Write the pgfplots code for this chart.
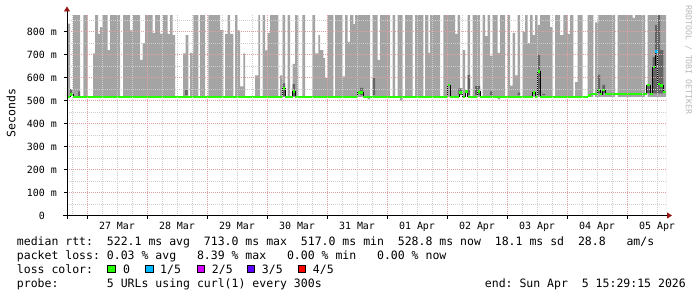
\documentclass[border=0pt]{standalone}
\usepackage{fontspec}
\setmonofont{DejaVu Sans Mono}
\usepackage{pgfplots}
\pgfplotsset{compat=1.18}
\usetikzlibrary{arrows.meta}

\definecolor{smoke}{RGB}{164,164,164}
\definecolor{smokedark}{RGB}{100,100,100}
\definecolor{medgreen}{RGB}{38,255,0}
\definecolor{lossblue}{RGB}{0,184,255}
\definecolor{lossmag}{RGB}{212,0,255}
\definecolor{lossviolet}{RGB}{94,0,255}
\definecolor{lossred}{RGB}{255,0,0}
\definecolor{mgrid}{RGB}{228,160,160}
\definecolor{ngrid}{RGB}{205,205,205}
\definecolor{arrowred}{RGB}{150,20,20}
\definecolor{wmark}{RGB}{185,185,185}

\newcommand{\legfont}{\ttfamily\fontsize{11.55}{14}\selectfont}

\begin{document}
\begin{tikzpicture}
\useasboundingbox (-67bp,-81.5bp) rectangle (630bp,215.5bp);
\begin{axis}[
  at={(0,0)}, anchor=south west,
  scale only axis, width=599bp, height=200.4bp,
  xmin=-8, xmax=231.6, ymin=0, ymax=872,
  axis lines*=left,
  axis line style={draw=none},
  axis on top,
  xtick={0,24,...,216}, xticklabels={},
  extra x ticks={12,36,...,228},
  extra x tick labels={27 Mar,28 Mar,29 Mar,30 Mar,31 Mar,01 Apr,02 Apr,03 Apr,04 Apr,05 Apr},
  extra x tick style={grid=none, major tick length=0pt},
  minor xtick={-6,6,12,18,30,36,42,54,60,66,78,84,90,102,108,114,126,132,138,150,156,162,174,180,186,198,204,210,222,228},
  ytick={0,100,...,800},
  yticklabels={0\phantom{\ m},100 m,200 m,300 m,400 m,500 m,600 m,700 m,800 m},
  minor ytick={50,150,...,850},
  grid=both,
  major grid style={mgrid, dash pattern=on 1bp off 1bp, line width=0.8bp},
  minor grid style={ngrid, dash pattern=on 1bp off 1bp, line width=0.8bp},
  tick align=outside, major tick length=3bp, minor tick length=0pt,
  tick style={black, line width=0.8bp},
  ticklabel style={font=\ttfamily\fontsize{10}{12}\selectfont, inner sep=0pt},
  xticklabel style={yshift=-6bp},
  yticklabel style={xshift=-7bp},
]
% smoke (upper envelope of ping spread)
\addplot[const plot mark left, fill=smoke, draw=none] table {
x top
-8 835
-6.8 515
-5.6 872
-2.8 515
-1.48 872
0.28 515
2.4 705
3.2 872
4.4 790
5.2 820
6.28 872
8.28 720
9.2 872
13.2 515
14.4 872
17.2 805
18.4 872
21.2 677
22.28 750
23.2 872
26.28 795
27.2 872
29.2 790
30.4 872
32.28 790
33.2 872
34.28 785
35.2 515
38.4 705
39.4 785
40.52 515
41.2 708
42.52 872
44.52 515
45.2 872
47.2 515
48.52 872
53.2 807
54.52 515
55.2 790
56.28 872
57.2 790
58.52 515
59.2 872
60.12 805
61.2 562
62.52 705
63.2 515
67.2 610
68.52 872
69.2 515
70.28 872
71.2 718
72.28 795
73.2 872
76.52 515
77.2 610
78.28 872
79.2 515
80.28 872
81.2 515
82.28 660
83.2 872
84.52 515
86.12 872
87.2 515
90.12 872
91.2 705
92.52 785
93.2 720
94.52 685
95.2 598
96.28 872
98.52 515
99.2 872
102.12 605
103.2 872
104.28 756
105.2 872
106.52 833
107.2 872
113.2 515
114.28 872
116.28 677
117.2 872
121.2 515
122.28 872
123.2 515
124.28 872
126.28 515
127.2 872
130.28 515
131.2 872
134.52 515
135.2 872
136.52 708
137.2 872
141.2 515
142.52 872
147.2 790
148.28 872
149.2 515
150.28 720
151.2 515
152.28 872
153.2 515
154.28 872
157.2 515
158.28 872
159.2 780
160.28 872
161.2 695
162.28 872
164.28 708
165.2 872
167.2 515
168.28 872
169.2 565
170.28 795
171.2 610
172.28 872
173.2 515
174.28 800
175.2 872
176.28 750
177.2 872
178.28 785
179.2 872
180.28 829
181.2 872
185.2 820
186.28 515
187.2 872
189.2 785
190.52 872
192.28 790
193.2 872
194.52 515
195.2 580
196.28 872
198.28 515
200.28 872
202.52 515
203.2 840
204.52 872
211.2 515
212.28 872
218.28 860
219.2 872
223.2 515
224.28 872
231.6 872
} \closedcycle;
% blank below the median band
\addplot[fill=white, draw=none] coordinates {(-8,515) (231.6,515)} \closedcycle;
% light smoke below the median
\addplot[fill=smoke, draw=none, unbounded coords=jump] table {
x y
112.28 505
112.28 518
113.2 518
113.2 505
nan nan
125.2 500
125.2 518
126.28 518
126.28 500
nan nan
164.28 505
164.28 518
165.2 518
165.2 505
};
% darker smoke
\addplot[fill=smokedark, draw=none, unbounded coords=jump] table {
x y
-6.8 527
-6.8 550
-5.72 550
-5.72 527
nan nan
-3.6 520
-3.6 540
-2.8 540
-2.8 520
nan nan
39.2 524
39.2 546
40.28 546
40.28 524
nan nan
78.28 518
78.28 575
79.2 575
79.2 518
nan nan
82.28 518
82.28 572
83.2 572
83.2 518
nan nan
109.2 524
109.2 555
110.52 555
110.52 524
nan nan
114.28 524
114.28 598
115.2 598
115.2 524
nan nan
148.52 524
148.52 553
150.28 553
150.28 524
nan nan
152.28 524
152.28 612
153.2 612
153.2 524
nan nan
155.2 524
155.2 563
157.2 563
157.2 524
nan nan
161.2 524
161.2 540
162.28 540
162.28 524
nan nan
172.28 524
172.28 535
173.2 535
173.2 524
nan nan
180.28 524
180.28 700
181.2 700
181.2 524
nan nan
182.12 524
182.12 529
183.2 529
183.2 524
nan nan
204.28 531
204.28 612
205.2 612
205.2 531
nan nan
206.12 531
206.12 568
207.2 568
207.2 531
nan nan
223.88 531
223.88 568
225.2 568
225.2 531
nan nan
226.28 531
226.28 690
227.2 690
227.2 531
nan nan
227.2 531
227.2 829
228.28 829
228.28 531
nan nan
228.28 531
228.28 872
229.2 872
229.2 531
nan nan
229.2 531
229.2 720
230.52 720
230.52 531
};
% median rtt
\pgfplotsset{medtab/.style={}}
\addplot[const plot mark left, black, line width=0.7bp] table {
x y
-8 517
-6.8 526
-5.6 517
78.28 553
79.2 517
82.28 539
83.2 517
108.28 535
110.52 517
144.28 568
145.28 517
148.92 535
150.28 517
151.2 539
152.28 517
156.28 539
157.2 517
178.28 535
179.2 517
180.28 626
181.2 517
200.4 522
201.4 529
204.28 546
205.2 529
206.12 546
207.2 529
223.88 568
225.2 529
226.28 645
227.2 713
228.28 572
229.2 565
230.52 538
231.6 538
};
\addplot[jump mark left, medgreen, line width=2.3bp] table {
x y
-8 517
-6.8 526
-5.6 517
78.28 553
79.2 517
82.28 539
83.2 517
108.28 535
110.52 517
144.28 568
145.28 517
148.92 535
150.28 517
151.2 539
152.28 517
156.28 539
157.2 517
178.28 535
179.2 517
180.28 626
181.2 517
200.4 522
201.4 529
204.28 546
205.2 529
206.12 546
207.2 529
223.88 568
225.2 529
226.28 645
227.2 713
228.28 572
229.2 565
230.52 538
231.6 538
};
\addplot[lossblue, line width=2.3bp] coordinates {(227.2,713) (228.28,713)};
\end{axis}
% axes with arrows
\draw[line width=0.8bp, -{Triangle[length=5bp,width=6bp,color=arrowred]}] (-4bp,0) -- (605bp,0);
\draw[line width=0.8bp, -{Triangle[length=5bp,width=6bp,color=arrowred]}] (0,-3.5bp) -- (0,209bp);
% y label
\node[rotate=90, font=\legfont, inner sep=0pt] at (-56bp,102.5bp) {Seconds};
% watermark
\node[rotate=-90, font=\ttfamily\fontsize{8.3}{10}\selectfont, text=wmark, inner sep=0pt] at (621.5bp,155.5bp) {RRDTOOL / TOBI OETIKER};
% legend lines
\node[anchor=base west, inner sep=0pt, font=\legfont] at (-50.3bp,-29.8bp) {median rtt:~~522.1 ms avg~~713.0 ms max~~517.0 ms min~~528.8 ms now~~18.1 ms sd~~28.8~~~am/s};
\node[anchor=base west, inner sep=0pt, font=\legfont] at (-50.3bp,-43.8bp) {packet loss: 0.03 \% avg~~~8.39 \% max~~~0.00 \% min~~~0.00 \% now};
\node[anchor=base west, inner sep=0pt, font=\legfont] at (-50.3bp,-57.8bp) {loss color:};
\foreach \bx/\lx/\col/\lab in {40.8/56/medgreen/0, 78.7/93/lossblue/1\slash 5, 130/144.7/lossmag/2\slash 5, 180/194.7/lossviolet/3\slash 5, 231/245.7/lossred/4\slash 5}{
  \filldraw[fill=\col, draw=black, line width=0.8bp] (\bx bp,-57.2bp) rectangle ++(7.5bp,7.7bp);
  \node[anchor=base west, inner sep=0pt, font=\legfont] at (\lx bp,-57.8bp) {\lab};
}
\node[anchor=base west, inner sep=0pt, font=\legfont] at (-50.3bp,-71.8bp) {probe:~~~~~~~5 URLs using curl(1) every 300s};
\node[anchor=base east, inner sep=0pt, font=\legfont] at (619bp,-71.8bp) {end: Sun Apr~~5 15:29:15 2026};
\end{tikzpicture}
\end{document}
